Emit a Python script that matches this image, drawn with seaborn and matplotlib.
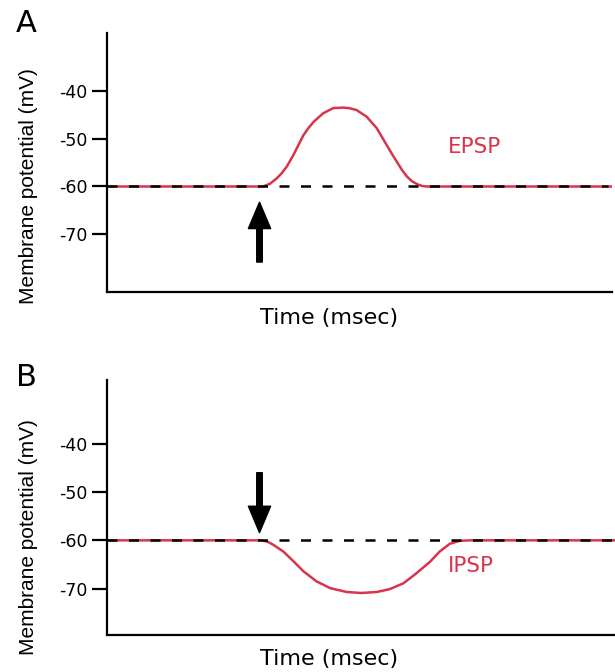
import matplotlib
matplotlib.use("Agg")
import matplotlib.pyplot as plt
import seaborn as sns

# ---- data ----
epsp_time = [0, 30.9, 32.3, 33.6, 34.6, 35.6, 36.9, 37.9, 38.9, 39.9, 40.9, 42.8, 44.8,
             46.8, 47.9, 49.4, 51.4, 53.4, 54.4, 55.4, 56.4, 57.4, 58.4, 59.4, 60.4,
             61.4, 62.4, 63.3, 100]
epsp_mv = [-60, -60, -59.4, -58.3, -57.2, -55.8, -53.4, -51.3, -49.2, -47.7, -46.4, -44.6,
           -43.5, -43.4, -43.5, -43.9, -45.3, -47.7, -49.5, -51.3, -53.1, -54.8, -56.5,
           -57.9, -58.9, -59.5, -59.9, -60, -60]

ipsp_time = [0, 30.6, 31.8, 32.9, 34.9, 36.9, 38.9, 41.5, 44.2, 47.5, 50.4, 53.4, 56.0,
             58.7, 61.3, 64.0, 65.9, 67.9, 69.9, 71.9, 100.6]
ipsp_mv = [-60, -60, -60.3, -60.9, -62.3, -64.3, -66.4, -68.5, -69.9, -70.7, -70.9, -70.7,
           -70.1, -68.9, -66.8, -64.4, -62.3, -60.7, -60.1, -60, -60]

base_time_a = [0, 99.2]
base_time_b = [0, 100.2]
base_mv = [-60, -60]

y_ticks = [-40, -50, -60, -70]
y_ticklabels = ["-40", "-50", "-60", "-70"]

stim_time = 30.2
arrow_a = (-75.9, -63.3)   # tail, tip (mV)
arrow_b = (-46.0, -58.4)

RED = "#d9344b"

sns.set_theme(style="white")
plt.rcParams["font.family"] = ["DejaVu Sans"]
plt.rcParams.update({"text.color": "black", "axes.labelcolor": "black",
                     "xtick.color": "black", "ytick.color": "black"})

fig = plt.figure(figsize=(6.15, 6.72), dpi=100)
axA = fig.add_axes([107/615, 1-292/672, 505/615, 259/672])
axB = fig.add_axes([107/615, 1-635/672, 508/615, 255/672])


def style(ax, xlim, ylim):
    ax.set_xlim(*xlim)
    ax.set_ylim(*ylim)
    ax.set_xticks([])
    ax.set_yticks(y_ticks)
    ax.set_yticklabels(y_ticklabels)
    ax.tick_params(axis="y", length=11, width=1.6, labelsize=12.5, pad=3,
                   direction="out", colors="black", labelcolor="black", left=True)
    for s in ["top", "right"]:
        ax.spines[s].set_visible(False)
    for s in ["left", "bottom"]:
        ax.spines[s].set_color("black")
        ax.spines[s].set_linewidth(1.6)
    ax.set_xlabel("")
    ax.set_ylabel("")
    ax.set_facecolor("white")


def px_to_t(px):
    return (px - 107) / 5.05


# Panel A
sns.lineplot(x=epsp_time, y=epsp_mv, ax=axA, color=RED, lw=1.8, sort=False)
sns.lineplot(x=base_time_a, y=base_mv, ax=axA, color="black", lw=1.8,
             linestyle=(0, (4, 4.6)))
style(axA, (0, 100), (-82.2, -27.7))
axA.annotate("", xy=(stim_time, arrow_a[1]), xytext=(stim_time, arrow_a[0]),
             arrowprops=dict(width=4, headwidth=16, headlength=19, color="black", shrink=0))
axA.text(px_to_t(475), -60 + (186.5-147)/4.75, "EPSP", color=RED, fontsize=15.5,
         ha="center", va="center")

# Panel B
sns.lineplot(x=ipsp_time, y=ipsp_mv, ax=axB, color=RED, lw=1.8, sort=False)
sns.lineplot(x=base_time_b, y=base_mv, ax=axB, color="black", lw=1.8,
             linestyle=(0, (4, 4.6)))
style(axB, (0, 100.6), (-79.6, -26.8))
axB.annotate("", xy=(stim_time, arrow_b[1]), xytext=(stim_time, arrow_b[0]),
             arrowprops=dict(width=4, headwidth=16, headlength=19, color="black", shrink=0))
axB.text(px_to_t(471), -60 - (566-540.5)/4.83, "IPSP", color=RED, fontsize=15.5,
         ha="center", va="center")

# Labels
for yc in (186, 537):
    fig.text(28/615, 1-yc/672, "Membrane potential (mV)", rotation=90,
             ha="center", va="center", fontsize=15, family=["Liberation Sans"])
for yc in (318, 659):
    fig.text(329/615, 1-yc/672, "Time (msec)", ha="center", va="center", fontsize=16)
fig.text(26/615, 1-24/672, "A", ha="center", va="center", fontsize=22)
fig.text(26/615, 1-378/672, "B", ha="center", va="center", fontsize=22)

fig.savefig("out.png", dpi=100, facecolor="white")
